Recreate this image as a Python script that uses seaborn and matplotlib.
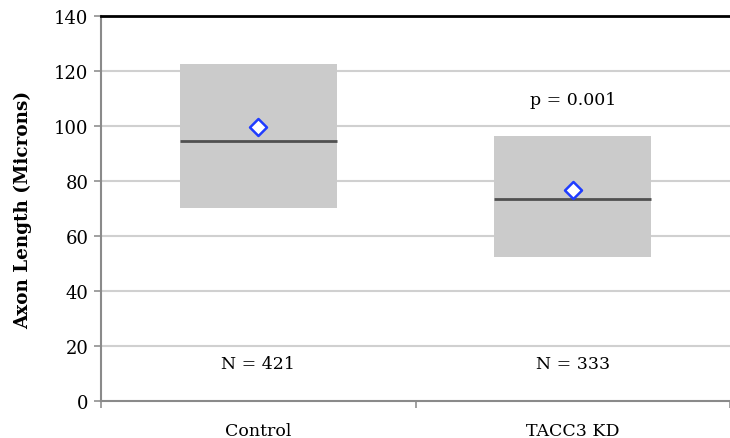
import numpy as np
import pandas as pd
import matplotlib
matplotlib.use("Agg")
import matplotlib.pyplot as plt
import seaborn as sns

# data
groups = ["Control", "TACC3 KD"]
box_low = [70.2, 52.4]
box_high = [122.7, 96.5]
medians = [94.4, 73.6]
means = [99.6, 76.8]
n_labels = ["N = 421", "N = 333"]
p_label = "p = 0.001"

df = pd.DataFrame({"group": groups, "low": box_low, "high": box_high,
                   "median": medians, "mean": means})
df["span"] = df["high"] - df["low"]

sns.set_theme(style="white")
plt.rcParams["font.family"] = ["DejaVu Serif"]
plt.rcParams["text.color"] = "black"
plt.rcParams["xtick.color"] = "black"
plt.rcParams["ytick.color"] = "black"
plt.rcParams["axes.labelcolor"] = "black"

fig = plt.figure(figsize=(7.3, 4.39), dpi=100)
ax = fig.add_axes([101 / 730, 1 - 402 / 439, 629 / 730, 385 / 439])

# grey boxes (low..high), bottom passed through to ax.bar
sns.barplot(data=df, x="group", y="span", bottom=df["low"].values,
            color="#cbcbcb", saturation=1, width=0.5, ax=ax, zorder=2,
            edgecolor="none", linewidth=0)

# median lines
for i, m in enumerate(df["median"]):
    ax.hlines(m, i - 0.25, i + 0.25, color="#505050", lw=2, zorder=3)

# mean markers
sns.scatterplot(data=df, x="group", y="mean", marker="D", s=75,
                facecolor="white", edgecolor="#1f3cff", linewidth=1.8,
                ax=ax, zorder=4)

ax.set_xlim(-0.5, -0.5 + 629 / 320)
ax.set_ylim(0, 140)
ax.set_yticks(np.arange(0, 141, 20))
for y in range(20, 121, 20):
    ax.axhline(y, color="#d0d0d0", lw=1.5, zorder=1)

for i, t in enumerate(n_labels):
    ax.text(i, 13.5, t, ha="center", va="center", fontsize=12.5)
ax.text(1, 109.5, p_label, ha="center", va="center", fontsize=12.5)

ax.set_xticks([0, 1])
ax.set_xticklabels(groups, fontsize=12.5)
ax.tick_params(axis="x", length=0, pad=15)
ax.set_xticks([-0.5, 0.5, 1.5], minor=True)
ax.tick_params(axis="x", which="minor", length=5, color="#909090", width=1.2, direction="out", bottom=True)
ax.tick_params(axis="y", length=5, color="#909090", labelcolor="black", width=1.2,
               direction="out", left=True, labelsize=13, pad=4)

ax.set_xlabel("")
ax.set_ylabel("Axon Length (Microns)", fontsize=13.2, fontweight="bold", labelpad=16)

for s in ["left", "bottom"]:
    ax.spines[s].set_color("#8a8a8a")
    ax.spines[s].set_linewidth(1.5)
ax.spines["top"].set_color("black")
ax.spines["top"].set_linewidth(2)
ax.spines["right"].set_visible(False)

fig.savefig("out.png", dpi=100)
